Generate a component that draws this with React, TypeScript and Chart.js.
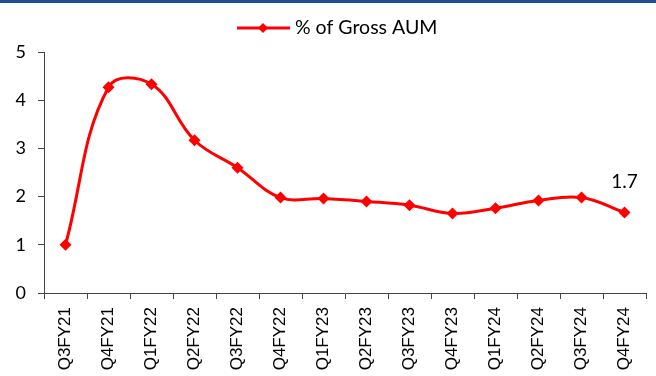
import React, { useEffect, useRef } from "react";
import { Chart, registerables } from "chart.js";

Chart.register(...registerables);

const categories = ["Q3FY21","Q4FY21","Q1FY22","Q2FY22","Q3FY22","Q4FY22","Q1FY23","Q2FY23","Q3FY23","Q4FY23","Q1FY24","Q2FY24","Q3FY24","Q4FY24"];
const values = [1.0, 4.27, 4.33, 3.17, 2.6, 1.98, 1.96, 1.9, 1.82, 1.65, 1.76, 1.92, 1.98, 1.67];
const seriesName = "% of Gross AUM";
const lastLabel = "1.7";
const yTicks = [0, 1, 2, 3, 4, 5];

const RED = "#FF0000";

const decor = {
  id: "decor",
  beforeDraw(chart: any) {
    const ctx = chart.ctx;
    ctx.save();
    ctx.fillStyle = "#1F4E99";
    ctx.fillRect(0, 0, chart.width, 3);
    ctx.restore();
  },
  afterDraw(chart: any) {
    const ctx = chart.ctx;
    ctx.save();
    // legend
    const ly = 28;
    ctx.strokeStyle = RED;
    ctx.lineWidth = 3;
    ctx.beginPath();
    ctx.moveTo(237, ly);
    ctx.lineTo(290, ly);
    ctx.stroke();
    ctx.fillStyle = RED;
    ctx.beginPath();
    ctx.moveTo(263, ly - 5);
    ctx.lineTo(268, ly);
    ctx.lineTo(263, ly + 5);
    ctx.lineTo(258, ly);
    ctx.closePath();
    ctx.fill();
    ctx.fillStyle = "#000";
    ctx.font = "19.5px Lato";
    ctx.textBaseline = "middle";
    ctx.textAlign = "left";
    ctx.fillText(seriesName, 295, ly);
    // data label
    const meta = chart.getDatasetMeta(0);
    const p = meta.data[meta.data.length - 1];
    ctx.textAlign = "center";
    ctx.textBaseline = "middle";
    ctx.font = "19px Lato";
    ctx.fillText(lastLabel, p.x, p.y - 31);
    ctx.restore();
  },
};

export default function App() {
  const ref = useRef<HTMLCanvasElement>(null);
  useEffect(() => {
    const chart = new Chart(ref.current!, {
      type: "line",
      data: {
        labels: categories,
        datasets: [
          {
            label: seriesName,
            data: values,
            borderColor: RED,
            backgroundColor: RED,
            borderWidth: 3,
            tension: 0.4,
            pointStyle: "rectRot",
            pointRadius: 6,
            pointBackgroundColor: RED,
            pointBorderColor: RED,
            pointBorderWidth: 0,
          },
        ],
      },
      options: {
        animation: false,
        responsive: false,
        events: [],
        layout: { padding: { top: 52, right: 10, left: 0, bottom: 0 } },
        plugins: { legend: { display: false }, tooltip: { enabled: false } },
        scales: {
          x: {
            offset: true,
            grid: { offset: true, drawOnChartArea: false, drawTicks: true, tickLength: 6, color: "#444" },
            border: { color: "#444", width: 1 },
            ticks: {
              maxRotation: 90,
              minRotation: 90,
              autoSkip: false,
              color: "#000",
              font: { family: "Liberation Sans", size: 17 },
              padding: 8,
            },
            afterFit(s: any) { s.height = 83; },
          },
          y: {
            min: 0,
            max: 5,
            afterBuildTicks(s: any) { s.ticks = yTicks.map((v) => ({ value: v })); },
            grid: { drawOnChartArea: false, drawTicks: true, tickLength: 6, color: "#444" },
            border: { color: "#444", width: 1 },
            ticks: {
              color: "#000",
              font: { family: "Lato", size: 18 },
              padding: 12,
            },
            afterFit(s: any) { s.width = 44; },
          },
        },
      },
      plugins: [decor],
    });
    return () => chart.destroy();
  }, []);
  return (
    <div style={{ position: "fixed", left: 0, top: 0, width: 656, height: 376, background: "#fff" }}>
      <canvas ref={ref} width={656} height={376} />
    </div>
  );
}
